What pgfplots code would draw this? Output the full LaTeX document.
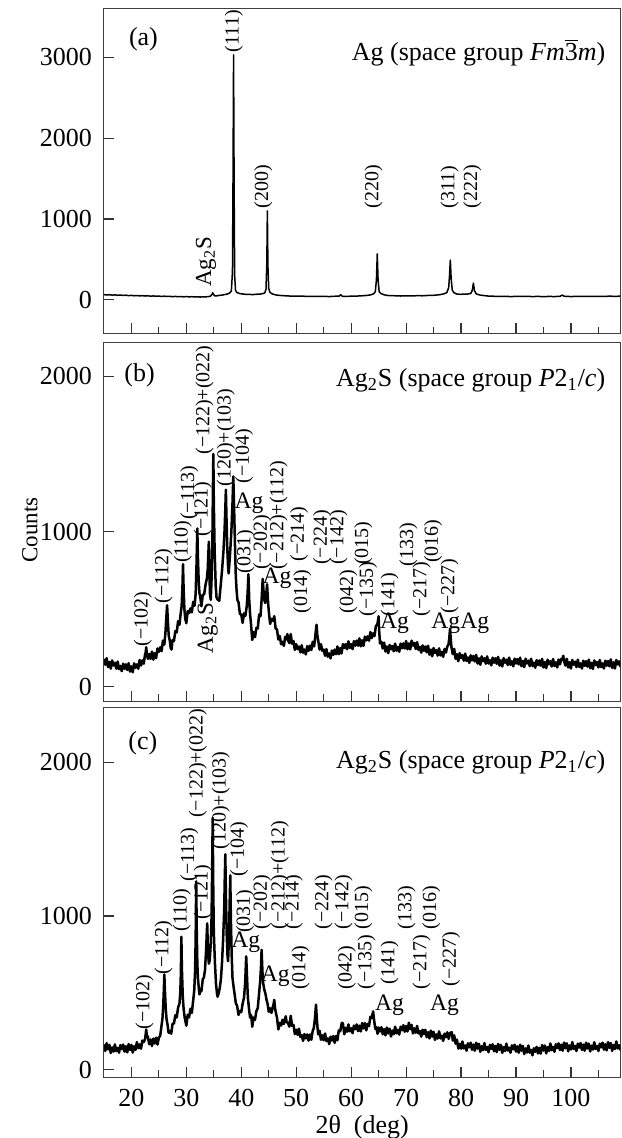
\documentclass[border=0pt]{standalone}
\usepackage{fontspec}
\setmainfont{Liberation Serif}
\usepackage{pgfplots}
\pgfplotsset{compat=1.18}

\tikzset{
  lab/.style={font=\fontsize{10}{10}\selectfont, rotate=90, anchor=west, inner sep=0pt},
  agl/.style={font=\fontsize{11.8}{12}\selectfont, inner sep=0pt},
  agr/.style={font=\fontsize{11.5}{12}\selectfont, rotate=90, anchor=west, inner sep=0pt},
  ttl/.style={font=\fontsize{13}{15}\selectfont, inner sep=0pt},
}
\pgfplotsset{
  panel/.style={
    scale only axis, width=258.5pt,
    xmin=15, xmax=109,
    axis line style={line width=0.6pt, black!75},
    xtick={20,30,40,50,60,70,80,90,100},
    minor xtick={25,35,45,55,65,75,85,95,105},
    xtick pos=bottom, ytick pos=left,
    tick align=inside,
    major tick length=5.3pt, minor tick length=3.5pt,
    tick style={black!80, line width=0.6pt},
    xticklabels={},
    scaled ticks=false,
    /pgf/number format/assume math mode=true,
    yticklabel style={font=\fontsize{13}{15}\selectfont, xshift=-2.5pt},
    xticklabel style={font=\fontsize{13}{15}\selectfont, yshift=-2.5pt},
    clip mode=individual,
  },
}

\begin{document}
\begin{tikzpicture}
% ===== (a) Ag =====
\begin{axis}[panel, at={(0,372.2pt)}, anchor=south west, height=162.65pt,
  ymin=-420, ymax=3600, ytick={0,1000,2000,3000}, yticklabels={0,1000,2000,3000}]
\addplot[black, line width=0.75pt, line join=round] coordinates {
(15,64) (15.5,60) (16,63) (16.5,58) (17,61) (17.5,56) (18,59) (18.5,55) (19,57) (19.5,52)
(20,55) (20.5,50) (21,53) (21.5,49) (22,51) (22.5,47) (23,50) (23.5,45) (24,48) (24.5,44)
(25,46) (25.5,42) (26,45) (26.5,41) (27,43) (27.5,39) (28,42) (28.5,38) (29,41) (29.5,37)
(30,40) (30.5,36) (31,39) (31.5,35) (32,38) (32.5,34) (33,37) (33.5,36) (34,40) (34.4,45)
(34.7,70) (34.8,88) (34.9,70) (35.2,48) (35.6,50) (36,55) (36.5,58) (37,65) (37.5,72) (37.9,85)
(38.2,110) (38.4,350) (38.5,1500) (38.6,3030) (38.7,1400) (38.8,300) (38.95,120) (39.2,90) (39.6,80) (40,74)
(40.5,70) (41,66) (41.5,68) (42,64) (42.5,67) (43,70) (43.5,72) (44,78) (44.3,88) (44.5,130)
(44.65,450) (44.75,1100) (44.85,420) (45,140) (45.2,95) (45.5,78) (46,65) (46.5,58) (47,55) (47.5,51)
(48,50) (49,46) (50,44) (51,46) (52,42) (53,44) (54,41) (55,43) (56,40) (57,44)
(57.8,46) (58.1,62) (58.4,44) (59,42) (60,45) (61,46) (62,50) (63,55) (63.6,62) (64.1,75)
(64.4,100) (64.6,250) (64.75,568) (64.9,240) (65.1,100) (65.4,78) (66,62) (66.5,55) (67,52) (68,50)
(69,47) (70,49) (71,48) (72,51) (73,50) (74,54) (75,56) (76,62) (76.8,72) (77.4,88)
(77.75,150) (77.9,300) (78.05,492) (78.2,260) (78.4,120) (78.7,88) (79.2,72) (79.8,68) (80.5,70) (81.3,72)
(81.8,80) (82.05,120) (82.25,207) (82.45,110) (82.8,72) (83.5,58) (84.5,50) (85,46) (86,44) (87,42)
(88,43) (89,40) (90,42) (91,41) (92,43) (93,40) (94,42) (95,39) (96,42) (97,40)
(98,43) (98.4,58) (98.8,44) (99.5,42) (100,40) (101,43) (102,41) (103,44) (104,42) (105,44)
(106,42) (107,45) (108,43) (109,45)
};
\node[ttl] at (axis cs:22.2,3220) {(a)};
\node[ttl, anchor=east] at (axis cs:106.3,3060) {Ag (space group \textit{Fm}$\overline{\mbox{3}}$\textit{m})};
\node[lab] at (axis cs:38.65,3060) {(111)};
\node[lab] at (axis cs:44.0,1128) {(200)};
\node[lab] at (axis cs:64.1,1128) {(220)};
\node[lab] at (axis cs:77.9,1128) {(311)};
\node[lab] at (axis cs:82.05,1128) {(222)};
\node[agr] at (axis cs:33.6,154) {Ag\textsubscript{2}S};
\end{axis}

% ===== (b) Ag2S =====
\begin{axis}[panel, at={(0,188.35pt)}, anchor=south west, height=179.65pt,
  ymin=-92, ymax=2220, ytick={0,1000,2000}, yticklabels={0,1000,2000}]
\addplot[black, line width=1.25pt, line join=round] coordinates {
(15.00,180) (15.25,142) (15.50,185) (15.75,127) (16.00,160) (16.25,117) (16.50,170) (16.75,137)
(17.00,155) (17.25,117) (17.50,163) (17.75,114) (18.00,135) (18.25,101) (18.50,149) (18.75,116)
(19.00,145) (19.25,109) (19.50,153) (19.75,98) (20.00,132) (20.25,94) (20.50,151) (20.75,123)
(21.00,145) (21.25,117) (21.50,173) (21.75,137) (22.00,170) (22.25,149) (22.50,212) (22.60,220)
(22.70,255) (22.80,215) (23.00,180) (23.25,212) (23.50,180) (23.75,227) (24.00,175) (24.25,217)
(24.50,185) (24.75,247) (25.00,225) (25.25,255) (25.50,230) (25.75,298) (26.00,272) (26.20,350)
(26.35,440) (26.50,525) (26.65,420) (26.80,330) (27.00,295) (27.15,250) (27.30,240) (27.50,302)
(27.75,295) (28.00,360) (28.25,350) (28.50,422) (28.75,399) (29.00,480) (29.15,520) (29.30,650)
(29.40,790) (29.50,640) (29.65,500) (29.80,440) (30.00,410) (30.25,488) (30.50,475) (30.75,505)
(31.00,480) (31.25,548) (31.50,522) (31.70,600) (31.85,780) (32.00,1020) (32.10,850) (32.25,680)
(32.40,600) (32.50,590) (32.75,519) (33.00,592) (33.25,596) (33.50,658) (33.75,700) (33.90,760)
(34.00,850) (34.10,935) (34.20,750) (34.30,600) (34.45,560) (34.60,700) (34.75,950) (34.85,1300)
(34.92,1500) (35.00,1200) (35.15,880) (35.35,650) (35.50,575) (35.75,560) (36.00,555) (36.25,650)
(36.50,750) (36.75,870) (36.95,1000) (37.10,1150) (37.20,1270) (37.30,1100) (37.45,900) (37.60,770)
(37.70,730) (37.85,800) (38.00,880) (38.20,1000) (38.40,1180) (38.55,1355) (38.70,1150) (38.85,920)
(39.00,720) (39.15,620) (39.30,560) (39.50,545) (39.75,470) (40.00,465) (40.25,412) (40.50,473)
(40.75,457) (41.00,520) (41.15,600) (41.30,725) (41.45,560) (41.60,470) (41.75,415) (42.00,302)
(42.25,352) (42.50,320) (42.75,380) (43.00,375) (43.25,465) (43.50,455) (43.70,560) (43.90,695)
(44.05,620) (44.20,560) (44.35,540) (44.50,580) (44.70,660) (44.85,560) (45.00,490) (45.25,405)
(45.50,438) (45.75,425) (45.90,440) (46.00,455) (46.15,410) (46.25,375) (46.50,370) (46.75,305)
(47.00,328) (47.25,274) (47.50,290) (47.75,264) (48.00,322) (48.25,306) (48.40,340) (48.50,300)
(48.75,282) (49.00,340) (49.25,277) (49.50,295) (49.75,238) (50.00,275) (50.25,243) (50.50,260)
(50.75,222) (51.00,268) (51.25,219) (51.50,240) (51.75,209) (52.00,262) (52.25,232) (52.50,265)
(52.75,237) (53.00,290) (53.25,260) (53.45,320) (53.60,370) (53.70,400) (53.85,330) (54.00,300)
(54.25,240) (54.50,275) (54.75,232) (55.00,240) (55.25,200) (55.50,243) (55.75,194) (56.00,215)
(56.25,183) (56.50,234) (56.75,206) (57.00,240) (57.25,210) (57.50,260) (57.75,210) (58.00,250)
(58.25,215) (58.50,275) (58.75,250) (59.00,275) (59.25,242) (59.50,293) (59.75,250) (60.00,275)
(60.25,243) (60.50,294) (60.75,265) (61.00,298) (61.25,265) (61.50,312) (61.75,261) (62.00,300)
(62.25,264) (62.50,323) (62.75,299) (63.00,325) (63.25,297) (63.50,353) (63.75,314) (64.00,345)
(64.25,327) (64.50,392) (64.75,400) (64.90,430) (65.00,455) (65.10,360) (65.25,280) (65.50,290)
(65.75,247) (66.00,285) (66.25,227) (66.50,260) (66.75,217) (67.00,270) (67.25,241) (67.50,263)
(67.75,229) (68.00,278) (68.25,233) (68.50,257) (68.75,226) (69.00,278) (69.25,248) (69.50,280)
(69.75,247) (70.00,295) (70.25,242) (70.50,280) (70.75,241) (71.00,297) (71.25,265) (71.50,283)
(71.75,244) (72.00,288) (72.25,238) (72.50,257) (72.75,220) (73.00,267) (73.25,232) (73.50,260)
(73.75,222) (74.00,265) (74.25,207) (74.50,240) (74.75,197) (75.00,250) (75.25,218) (75.50,237)
(75.75,201) (76.00,248) (76.25,202) (76.50,225) (76.75,193) (77.00,244) (77.25,221) (77.50,260)
(77.70,270) (77.85,310) (78.00,375) (78.10,320) (78.25,255) (78.50,210) (78.75,245) (79.00,180)
(79.25,210) (79.50,165) (79.75,217) (80.00,185) (80.25,204) (80.50,168) (80.75,214) (81.00,167)
(81.25,189) (81.50,154) (81.75,203) (82.00,170) (82.25,199) (82.50,163) (82.75,206) (83.00,150)
(83.25,184) (83.50,142) (83.75,196) (84.00,165) (84.25,184) (84.50,149) (84.75,196) (85.00,150)
(85.25,172) (85.50,138) (85.75,188) (86.00,155) (86.25,184) (86.50,148) (86.75,193) (87.00,137)
(87.25,171) (87.50,131) (87.75,185) (88.00,155) (88.25,175) (88.50,140) (88.75,188) (89.00,142)
(89.25,165) (89.50,132) (89.75,182) (90.00,150) (90.25,179) (90.50,144) (90.75,188) (91.00,133)
(91.25,167) (91.50,127) (91.75,181) (92.00,150) (92.25,169) (92.50,133) (92.75,181) (93.00,134)
(93.25,156) (93.50,123) (93.75,172) (94.00,140) (94.25,170) (94.50,135) (94.75,180) (95.00,125)
(95.25,160) (95.50,120) (95.75,175) (96.00,145) (96.25,165) (96.50,131) (96.75,179) (97.00,134)
(97.25,158) (97.50,125) (97.75,176) (98.00,145) (98.25,180) (98.45,175) (98.60,200) (98.75,165)
(99.00,137) (99.25,181) (99.50,125) (99.75,159) (100.00,118) (100.25,173) (100.50,142) (100.75,162)
(101.00,127) (101.25,175) (101.50,128) (101.75,151) (102.00,118) (102.25,168) (102.50,135) (102.75,165)
(103.00,130) (103.25,175) (103.50,120) (103.75,155) (104.00,115) (104.25,170) (104.50,140) (104.75,160)
(105.00,125) (105.25,173) (105.50,127) (105.75,151) (106.00,118) (106.25,168) (106.50,136) (106.75,167)
(107.00,132) (107.25,177) (107.50,122) (107.75,158) (108.00,118) (108.25,173) (108.50,144) (108.75,164)
(109.00,130)
};
\node[ttl] at (axis cs:21.5,2008) {(b)};
\node[ttl, anchor=east] at (axis cs:106.3,1975) {Ag\textsubscript{2}S (space group \textit{P}2\textsubscript{1}/\textit{c})};
\node[lab] at (axis cs:22.1,260) {(−102)};
\node[lab] at (axis cs:25.85,537) {(−112)};
\node[lab] at (axis cs:29.35,795) {(110)};
\node[lab] at (axis cs:30.55,1074) {(−113)};
\node[lab] at (axis cs:33.0,967) {(−121)};
\node[agr] at (axis cs:33.9,215) {Ag\textsubscript{2}S};
\node[lab] at (axis cs:33.3,1493) {(−122)+(022)};
\node[lab] at (axis cs:37.2,1289) {(120)+(103)};
\node[lab] at (axis cs:40.5,1310) {(−104)};
\node[agl] at (axis cs:41.4,1181) {Ag};
\node[lab] at (axis cs:40.8,730) {(031)};
\node[lab] at (axis cs:43.8,752) {(−202)};
\node[agl] at (axis cs:46.5,700) {Ag};
\node[lab] at (axis cs:46.8,752) {(−212)+(112)};
\node[lab] at (axis cs:50.5,805) {(−214)};
\node[lab] at (axis cs:51.1,472) {(014)};
\node[lab] at (axis cs:54.7,784) {(−224)};
\node[lab] at (axis cs:57.7,784) {(−142)};
\node[lab] at (axis cs:59.5,472) {(042)};
\node[lab] at (axis cs:62.2,784) {(015)};
\node[lab] at (axis cs:63.1,451) {(−135)};
\node[lab] at (axis cs:67.0,451) {(141)};
\node[agl] at (axis cs:67.9,408) {Ag};
\node[lab] at (axis cs:70.4,773) {(133)};
\node[lab] at (axis cs:72.8,451) {(−217)};
\node[lab] at (axis cs:74.9,795) {(016)};
\node[lab] at (axis cs:77.9,472) {(−227)};
\node[agl] at (axis cs:77.2,408) {Ag};
\node[agl] at (axis cs:82.5,408) {Ag};
\end{axis}

% ===== (c) Ag2S =====
\begin{axis}[panel, at={(0,0)}, anchor=south west, height=185.2pt,
  ymin=-50, ymax=2357, ytick={0,1000,2000}, yticklabels={0,1000,2000},
  xticklabels={20,30,40,50,60,70,80,90,100},
  xlabel={2θ\enspace(deg)}, xlabel style={font=\fontsize{13}{15}\selectfont, yshift=2.5pt}]
\addplot[black, line width=1.25pt, line join=round] coordinates {
(15.00,165) (15.25,122) (15.50,173) (15.75,132) (16.00,162) (16.25,109) (16.50,146) (16.75,118)
(17.00,165) (17.25,121) (17.50,142) (17.75,111) (18.00,160) (18.25,134) (18.50,164) (18.75,118)
(19.00,153) (19.25,113) (19.50,167) (19.75,129) (20.00,162) (20.25,112) (20.50,153) (20.75,129)
(21.00,180) (21.25,140) (21.50,165) (21.75,137) (22.00,190) (22.25,180) (22.50,200) (22.60,230)
(22.70,262) (22.80,225) (23.00,215) (23.25,166) (23.50,197) (23.75,154) (24.00,203) (24.25,171)
(24.50,209) (24.75,164) (25.00,208) (25.25,222) (25.50,290) (25.65,330) (25.80,420) (25.92,530)
(26.00,620) (26.10,520) (26.25,400) (26.40,330) (26.60,290) (26.75,245) (26.90,240) (27.00,252)
(27.25,235) (27.50,300) (27.75,300) (28.00,355) (28.25,340) (28.50,405) (28.75,430) (28.90,500)
(29.00,620) (29.10,865) (29.20,650) (29.35,480) (29.50,400) (29.70,340) (29.90,305) (30.00,287)
(30.25,358) (30.50,340) (30.75,397) (31.00,370) (31.25,450) (31.45,520) (31.60,650) (31.70,850)
(31.80,1225) (31.90,900) (32.00,700) (32.10,600) (32.25,540) (32.40,490) (32.50,508) (32.75,512)
(33.00,590) (33.20,600) (33.40,650) (33.60,780) (33.80,952) (33.95,760) (34.10,690) (34.25,710)
(34.45,820) (34.60,1000) (34.70,1300) (34.80,1638) (34.90,1200) (35.00,900) (35.20,700) (35.40,560)
(35.60,490) (35.70,475) (35.90,500) (36.10,535) (36.30,590) (36.50,700) (36.70,850) (36.90,1050)
(37.00,1250) (37.10,1402) (37.20,1150) (37.35,880) (37.50,740) (37.60,706) (37.75,850) (37.90,1100)
(38.00,1265) (38.10,1000) (38.25,750) (38.40,600) (38.60,540) (38.80,490) (39.00,435) (39.25,415)
(39.50,357) (39.75,382) (40.00,375) (40.25,430) (40.50,470) (40.70,560) (40.90,738) (41.05,600)
(41.20,470) (41.40,400) (41.60,340) (41.80,355) (42.00,280) (42.25,340) (42.50,325) (42.75,382)
(43.00,400) (43.25,500) (43.45,580) (43.60,680) (43.70,780) (43.85,640) (44.00,560) (44.20,520)
(44.40,495) (44.60,455) (44.80,428) (45.00,377) (45.25,400) (45.50,370) (45.75,410) (45.90,430)
(46.00,455) (46.15,400) (46.30,370) (46.50,340) (46.75,262) (47.00,305) (47.25,288) (47.50,325)
(47.75,298) (47.95,330) (48.10,348) (48.25,310) (48.50,305) (48.75,281) (49.00,351) (49.25,286)
(49.50,292) (49.75,232) (50.00,261) (50.25,227) (50.50,267) (50.75,213) (51.00,225) (51.25,188)
(51.50,232) (51.75,204) (52.00,230) (52.25,190) (52.50,230) (52.75,195) (53.00,253) (53.20,270)
(53.40,330) (53.60,423) (53.75,330) (53.90,265) (54.00,230) (54.25,254) (54.50,195) (54.75,225)
(55.00,192) (55.25,236) (55.50,187) (55.75,204) (56.00,167) (56.25,215) (56.50,190) (56.75,220)
(57.00,175) (57.25,220) (57.50,192) (57.75,256) (58.00,250) (58.30,305) (58.50,302) (58.75,231)
(59.00,273) (59.25,247) (59.50,295) (59.75,250) (60.00,270) (60.25,238) (60.50,287) (60.75,264)
(61.00,295) (61.25,251) (61.50,287) (61.75,249) (62.00,303) (62.25,269) (62.50,304) (62.75,256)
(63.00,298) (63.25,284) (63.50,345) (63.70,335) (63.85,355) (64.00,380) (64.15,330) (64.40,265)
(64.60,277) (64.80,234) (65.00,275) (65.25,249) (65.50,277) (65.75,231) (66.00,265) (66.25,224)
(66.50,275) (66.75,236) (67.00,267) (67.25,216) (67.50,255) (67.75,231) (68.00,280) (68.25,237)
(68.50,260) (68.75,229) (69.00,280) (69.25,257) (69.50,290) (69.75,247) (70.00,285) (70.25,249)
(70.50,306) (70.75,264) (71.00,292) (71.25,236) (71.50,270) (71.75,241) (72.00,285) (72.25,236)
(72.50,252) (72.75,216) (73.00,260) (73.25,232) (73.50,260) (73.75,212) (74.00,245) (74.25,204)
(74.50,255) (74.75,216) (75.00,247) (75.25,194) (75.50,230) (75.75,203) (76.00,250) (76.25,204)
(76.50,222) (76.75,188) (77.00,235) (77.25,212) (77.50,244) (77.75,201) (78.00,238) (78.30,245)
(78.50,190) (78.75,224) (79.00,170) (79.25,196) (79.50,138) (79.75,169) (80.00,137) (80.25,184)
(80.50,139) (80.75,158) (81.00,124) (81.25,172) (81.50,146) (81.75,176) (82.00,130) (82.25,164)
(82.50,124) (82.75,176) (83.00,138) (83.25,169) (83.50,117) (83.75,154) (84.00,127) (84.25,174)
(84.50,129) (84.75,148) (85.00,114) (85.25,162) (85.50,136) (85.75,166) (86.00,120) (86.25,155)
(86.50,115) (86.75,168) (87.00,130) (87.25,162) (87.50,110) (87.75,148) (88.00,122) (88.25,170)
(88.50,125) (88.75,144) (89.00,111) (89.25,159) (89.50,133) (89.75,163) (90.00,118) (90.25,152)
(90.50,111) (90.75,163) (91.00,124) (91.25,155) (91.50,102) (91.75,139) (92.00,112) (92.25,158)
(92.50,111) (92.75,129) (93.00,94) (93.25,140) (93.50,117) (93.75,149) (94.00,106) (94.25,143)
(94.50,105) (94.75,161) (95.00,125) (95.25,158) (95.50,107) (95.75,147) (96.00,122) (96.25,171)
(96.50,127) (96.75,149) (97.00,117) (97.25,166) (97.50,141) (97.75,172) (98.00,128) (98.25,163)
(98.50,124) (98.75,177) (99.00,140) (99.25,172) (99.50,120) (99.75,158) (100.00,132) (100.25,180)
(100.50,135) (100.75,155) (101.00,122) (101.25,170) (101.50,144) (101.75,174) (102.00,129) (102.25,164)
(102.50,124) (102.75,176) (103.00,138) (103.25,170) (103.50,119) (103.75,157) (104.00,131) (104.25,179)
(104.50,135) (104.75,155) (105.00,122) (105.25,170) (105.50,146) (105.75,176) (106.00,131) (106.25,166)
(106.50,126) (106.75,180) (107.00,142) (107.25,174) (107.50,123) (107.75,161) (108.00,135) (108.25,184)
(108.50,139) (108.75,160) (109.00,127)
};
\node[ttl] at (axis cs:22.1,2124) {(c)};
\node[ttl, anchor=east] at (axis cs:106.3,2000) {Ag\textsubscript{2}S (space group \textit{P}2\textsubscript{1}/\textit{c})};
\node[lab] at (axis cs:22.4,262) {(−102)};
\node[lab] at (axis cs:25.85,618) {(−112)};
\node[lab] at (axis cs:29.2,899) {(110)};
\node[lab] at (axis cs:30.55,1224) {(−113)};
\node[lab] at (axis cs:33.0,975) {(−121)};
\node[lab] at (axis cs:32.1,1636) {(−122)+(022)};
\node[lab] at (axis cs:36.3,1430) {(120)+(103)};
\node[lab] at (axis cs:39.6,1257) {(−104)};
\node[lab] at (axis cs:40.7,888) {(031)};
\node[agl] at (axis cs:40.8,830) {Ag};
\node[lab] at (axis cs:43.8,910) {(−202)};
\node[lab] at (axis cs:47.0,910) {(−212)+(112)};
\node[agl] at (axis cs:46.2,607) {Ag};
\node[lab] at (axis cs:49.55,910) {(−214)};
\node[lab] at (axis cs:50.8,520) {(014)};
\node[lab] at (axis cs:55.0,910) {(−224)};
\node[lab] at (axis cs:58.6,910) {(−142)};
\node[lab] at (axis cs:62.2,910) {(015)};
\node[lab] at (axis cs:59.2,520) {(042)};
\node[lab] at (axis cs:62.8,520) {(−135)};
\node[lab] at (axis cs:67.0,552) {(141)};
\node[agl] at (axis cs:67.0,422) {Ag};
\node[lab] at (axis cs:70.1,910) {(133)};
\node[lab] at (axis cs:72.8,520) {(−217)};
\node[lab] at (axis cs:74.6,910) {(016)};
\node[lab] at (axis cs:78.2,542) {(−227)};
\node[agl] at (axis cs:77.0,422) {Ag};
\end{axis}

\node[font=\fontsize{11.5}{13}\selectfont, rotate=90] at (-37pt,274pt) {Counts};
\pgfresetboundingbox
\path (-52pt,-30.3pt) rectangle (258.8pt,539.25pt);
\end{tikzpicture}
\end{document}
